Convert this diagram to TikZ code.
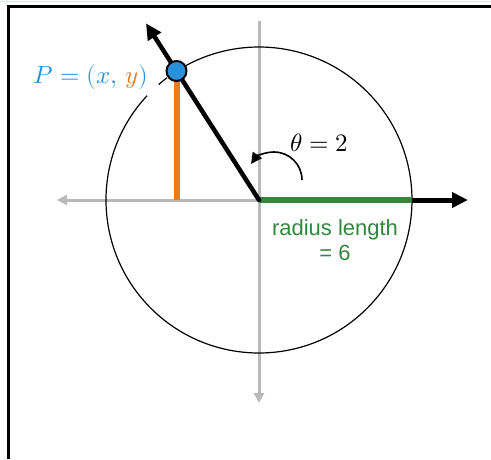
\documentclass[tikz,border=0pt]{standalone}
\usepackage{fontspec}
\usepackage{unicode-math}
\setmathfont{Latin Modern Math}
\setsansfont{Liberation Sans}
\usetikzlibrary{arrows.meta,calc}
\definecolor{axgray}{RGB}{185,185,185}
\definecolor{ptblue}{RGB}{40,145,220}
\definecolor{yorange}{RGB}{232,125,30}
\definecolor{rgreen}{RGB}{50,135,60}
\definecolor{topline}{RGB}{215,228,238}
\tikzset{
  axis/.style={draw=axgray, line width=3pt},
  axtip/.style={-{Triangle[length=10pt,width=10pt]}},
  bigtip/.style={-{Triangle[length=16pt,width=15pt]}},
  radline/.style={draw=black, line width=4.5pt},
  lbl/.style={inner sep=0pt},
  mathlbl/.style={lbl, font=\fontsize{25}{30}\selectfont},
}
\begin{document}
\begin{tikzpicture}[x=1pt,y=-1pt]
\useasboundingbox (0,0) rectangle (491,459);
% frame
\draw[topline, line width=1pt] (0,1.5) -- (491,1.5);
\coordinate (F1) at (8,459);
\coordinate (F2) at (8,6);
\coordinate (F3) at (491,6);
\draw[line width=3pt] (F1) -- (F2) -- (F3);
% key points
\coordinate (O) at (259,200);
\coordinate (P) at (176.5,71);
\coordinate (Pf) at (176.5,200);
\coordinate (R) at (412,200);
\coordinate (Xr) at (468,200);
\coordinate (Xl) at (57,200);
\coordinate (Yt) at (259,21);
\coordinate (Yb) at (259,403);
\coordinate (T) at ($(O)!1.37!(P)$);
% axes
\draw[axis, axtip] (O) -- (Xl);
\draw[axis, axtip] (Yt) -- (Yb);
% circle with gap near label
\draw[line width=1.2pt] (O) ++(-137:153) arc[start angle=-137, end angle=-482, radius=153];
\draw[line width=1.2pt] (O) ++(-127:153) arc[start angle=-127, end angle=-131, radius=153];
% orange y segment
\draw[draw=yorange, line width=6pt] (P) -- (Pf);
% green radius
\draw[draw=rgreen, line width=6pt] (O) -- (R);
% black x arrow
\draw[line width=5pt, bigtip] (R) -- (Xr);
% black radius arrow
\draw[radline, line cap=round, bigtip] (O) -- (T);
% point
\node[circle, fill=ptblue, draw=black, line width=2pt, minimum size=20pt, inner sep=0pt] (Pdot) at (P) {};
% theta arc
\coordinate (Ac) at (274,180);
\draw[line width=1.6pt, -{Triangle[length=11pt,width=11pt]}] (Ac) ++(0:28) arc[start angle=0, end angle=-145, radius=28];
% labels
\node[mathlbl, text=ptblue] (Plbl) at (91,77) {$P=(x,\,\textcolor{yorange}{y})$};
\node[mathlbl] (th) at (319,143) {$\theta=2$};
\node[lbl, text=rgreen, font=\sffamily\fontsize{22}{25}\selectfont, align=center] (rl) at (335,240) {radius length\\= 6};
\end{tikzpicture}
\end{document}
